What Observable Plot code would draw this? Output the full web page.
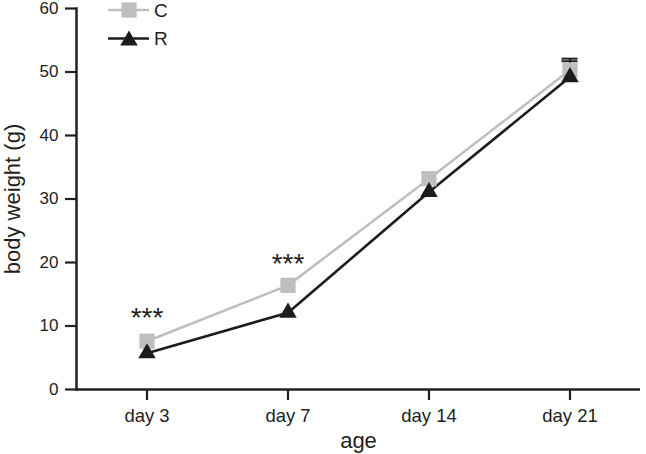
<!DOCTYPE html>
<html><head><meta charset="utf-8">
<script src="https://cdn.jsdelivr.net/npm/d3@7"></script>
<script src="https://cdn.jsdelivr.net/npm/@observablehq/plot@0.6"></script>
<style>
body{margin:0;background:#fff}
#wrap{position:relative;width:646px;height:454px}
#legend{position:absolute;left:0;top:0;pointer-events:none}
</style>
</head><body><div id="wrap"></div>
<script>
// ---- data ----
const ages = ["day 3", "day 7", "day 14", "day 21"];
const groups = ["C", "R"];
const cValues = [7.6, 16.4, 33.2, 50.3];
const rValues = [5.7, 12.1, 31.1, 49.2];
const errAges = ["day 21", "day 21"];
const errGroups = ["C", "R"];
const errTop = [51.7, 52.1];
const starAges = ["day 3", "day 7"];
const starY = [11.3, 19.7];
const starLabels = ["***", "***"];
const yTicks = [0, 10, 20, 30, 40, 50, 60];
const groupColors = ["#bfbfbf", "#1c1c1c"];
const groupSymbols = ["square", "triangle"];
const axisTitleX = "age";
const axisTitleY = "body weight (g)";

// ---- tables ----
const rows = [];
ages.forEach((a, i) => {
  rows.push({age: a, group: "C", value: cValues[i]});
  rows.push({age: a, group: "R", value: rValues[i]});
});
const errRows = errAges.map((a, i) => {
  const g = errGroups[i];
  const vals = g === "C" ? cValues : rValues;
  return {age: a, group: g, value: vals[ages.indexOf(a)], top: errTop[i]};
});
const starRows = starAges.map((a, i) => ({age: a, y: starY[i], text: starLabels[i]}));

const ink = "#231f20";
const font = "'Liberation Sans', Arial, Helvetica, sans-serif";

const chart = Plot.plot({
  width: 646, height: 454,
  marginLeft: 76, marginRight: 6, marginTop: 8, marginBottom: 65,
  style: {fontFamily: font, fontSize: "16px", color: ink, background: "#fff"},
  x: {type: "band", domain: ages, padding: 0, label: null},
  y: {domain: [0, 60], label: null},
  marks: [
    Plot.axisX({tickSize: 11, tickPadding: 8, strokeWidth: 2.2, stroke: ink, fill: ink, fontSize: 18.5, label: null}),
    Plot.axisY({ticks: yTicks, tickSize: 11, tickPadding: 7, strokeWidth: 2.2, stroke: ink, fill: ink, fontSize: 17, label: null}),
    Plot.ruleY([0], {stroke: ink, strokeWidth: 2.5}),
    Plot.frame({anchor: "left", stroke: ink, strokeWidth: 2.5}),
    Plot.text([axisTitleX], {frameAnchor: "bottom", lineAnchor: "middle", textAnchor: "middle", dy: 51, fontSize: 22, fill: ink}),
    Plot.text([axisTitleY], {frameAnchor: "left", lineAnchor: "middle", textAnchor: "middle", dx: -64, rotate: -90, fontSize: 22, fill: ink}),
    Plot.ruleX(errRows, {x: "age", y1: "value", y2: "top", stroke: ink, strokeWidth: 2}),
    Plot.tickY(errRows, {x: "age", y: "top", stroke: ink, strokeWidth: 2, insetLeft: 62.5, insetRight: 62.5}),
    Plot.line(rows.filter(d => d.group === "C"), {x: "age", y: "value", stroke: groupColors[0], strokeWidth: 2.6}),
    Plot.line(rows.filter(d => d.group === "R"), {x: "age", y: "value", stroke: groupColors[1], strokeWidth: 2.6}),
    Plot.dot(rows.filter(d => d.group === "C"), {x: "age", y: "value", symbol: () => groupSymbols[0], fill: groupColors[0], r: 8.6}),
    Plot.dot(rows.filter(d => d.group === "R"), {x: "age", y: "value", symbol: () => groupSymbols[1], fill: groupColors[1], r: 6.5}),
    Plot.text(starRows, {x: "age", y: "y", text: "text", fontSize: 28, fill: ink})
  ]
});
document.getElementById("wrap").appendChild(chart);

// ---- legend overlay ----
const leg = d3.select("#wrap").append("svg").attr("id", "legend")
  .attr("width", 646).attr("height", 454);
const symTypes = {square: d3.symbolSquare, triangle: d3.symbolTriangle};
const rSizes = [8.6, 6.5];
groups.forEach((g, i) => {
  const cy = 10 + i * 28.5;
  const gg = leg.append("g").attr("transform", `translate(0,${cy})`);
  gg.append("line").attr("x1", 108).attr("x2", 149).attr("y1", 0).attr("y2", 0)
    .attr("stroke", groupColors[i]).attr("stroke-width", 2.5);
  gg.append("path")
    .attr("d", d3.symbol(symTypes[groupSymbols[i]], rSizes[i] * rSizes[i] * Math.PI)())
    .attr("transform", `translate(129,${i === 1 ? 2 : 0})`)
    .attr("fill", groupColors[i]);
  gg.append("text").attr("x", 154).attr("y", 0).attr("dy", "0.36em")
    .attr("font-family", font).attr("font-size", 19).attr("fill", ink).text(g);
});
</script>
</body></html>
